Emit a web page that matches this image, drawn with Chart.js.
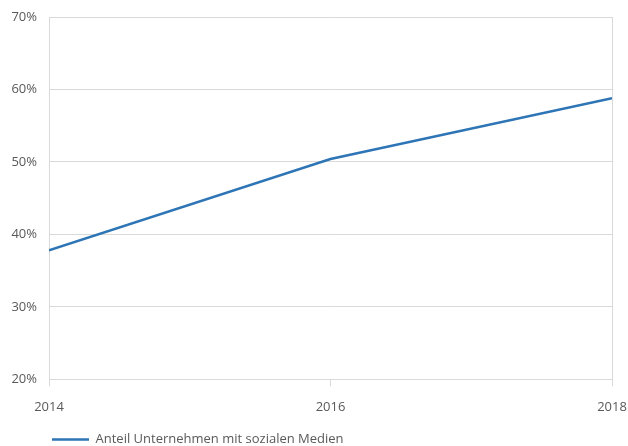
<!DOCTYPE html>
<html>
<head>
<meta charset="utf-8">
<script src="https://cdn.jsdelivr.net/npm/chart.js@4.4.1/dist/chart.umd.min.js"></script>
<style>
  html, body { margin: 0; padding: 0; background: #fff; }
  #wrap { width: 628px; height: 446px; }
</style>
</head>
<body>
<div id="wrap"><canvas id="myChart"></canvas></div>
<script>
const years = [2014, 2016, 2018]
const anteil = [37.8, 50.4, 58.8]
const seriesName = 'Anteil Unternehmen mit sozialen Medien'
const yTicks = [20, 30, 40, 50, 60, 70]

const lineColor = '#2E75B6'
const gridColor = '#D9D9D9'
const textColor = '#595959'
const font13 = { family: 'Open Sans', size: 13 }

// legend sits a bit to the right and lower than chart.js puts it
const legendShift = {
  id: 'legendShift',
  afterLayout(chart) {
    const lg = chart.legend
    lg.left = 42
    lg.top = lg.top - 5
  }
}

const ctx = document.getElementById('myChart')
new Chart(ctx, {
  type: 'line',
  data: {
    datasets: [{
      label: seriesName,
      data: years.map((y, i) => ({ x: y, y: anteil[i] })),
      borderColor: lineColor,
      backgroundColor: lineColor,
      borderWidth: 2.5,
      pointRadius: 0,
      tension: 0,
      fill: false
    }]
  },
  options: {
    responsive: true,
    maintainAspectRatio: false,
    animation: false,
    layout: { padding: { left: 6, right: 0, top: 17, bottom: -15 } },
    scales: {
      x: {
        type: 'linear',
        min: years[0],
        max: years[years.length - 1],
        afterBuildTicks: (axis) => { axis.ticks = years.map(v => ({ value: v })) },
        afterFit: (axis) => { axis.paddingLeft = 0; axis.paddingRight = 16 },
        border: { display: false },
        grid: {
          color: (c) => (c.index === 0 || c.index === years.length - 1) ? gridColor : 'rgba(0,0,0,0)',
          tickColor: gridColor,
          tickLength: 7,
          lineWidth: 1
        },
        ticks: {
          color: textColor,
          font: font13,
          padding: 13,
          callback: (v) => String(v),
          maxRotation: 0
        }
      },
      y: {
        min: yTicks[0],
        max: yTicks[yTicks.length - 1],
        afterBuildTicks: (axis) => { axis.ticks = yTicks.map(v => ({ value: v })) },
        afterFit: (axis) => { axis.width = 43; axis.paddingTop = 0; axis.paddingBottom = 0 },
        border: { display: false },
        grid: { color: gridColor, drawTicks: false, lineWidth: 1 },
        ticks: {
          color: textColor,
          font: font13,
          padding: 12,
          callback: (v) => v + '%'
        }
      }
    },
    plugins: {
      legend: {
        position: 'bottom',
        align: 'start',
        labels: {
          color: textColor,
          font: font13,
          boxWidth: 37,
          boxHeight: 0,
          padding: 10
        }
      },
      tooltip: { enabled: false }
    }
  },
  plugins: [legendShift]
})
</script>
</body>
</html>
